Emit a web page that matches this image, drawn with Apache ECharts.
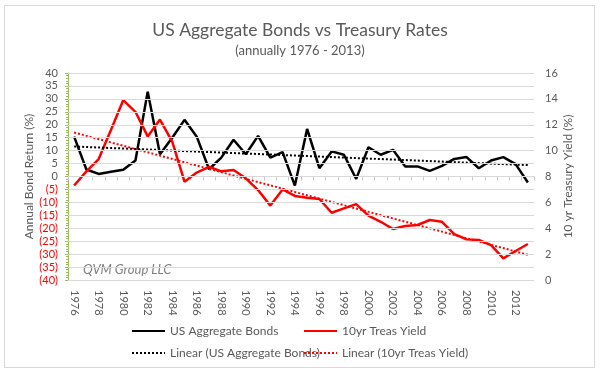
<!DOCTYPE html>
<html><head><meta charset="utf-8">
<script src="https://cdn.jsdelivr.net/npm/echarts@6/dist/echarts.min.js"></script>
<style>html,body{margin:0;padding:0;background:#fff}#wrap{position:relative;width:600px;height:374px}#c{width:600px;height:374px}#frame{position:absolute;left:4px;top:5px;width:589px;height:361px;border:1px solid #d9d9d9;pointer-events:none}</style>
</head><body><div id="wrap"><div id="c"></div><div id="frame"></div></div>
<script>
const years = [1976,1977,1978,1979,1980,1981,1982,1983,1984,1985,1986,1987,1988,1989,1990,1991,1992,1993,1994,1995,1996,1997,1998,1999,2000,2001,2002,2003,2004,2005,2006,2007,2008,2009,2010,2011,2012,2013];
const bondReturns = [15.4,2.7,1.0,1.8,2.6,6.2,32.8,8.6,15.0,21.9,15.4,2.8,7.3,14.2,8.6,15.7,7.3,9.4,-3.5,18.4,3.2,9.7,8.4,-0.9,11.3,8.4,10.3,3.9,3.9,2.2,4.1,6.8,7.5,3.2,6.2,7.5,4.8,-2.3];
const treasYield = [7.3,8.4,9.35,11.6,13.9,13.0,11.1,12.4,10.7,7.6,8.3,8.75,8.4,8.5,7.86,6.95,5.75,7.0,6.5,6.36,6.26,5.2,5.54,5.87,4.97,4.5,3.94,4.17,4.25,4.64,4.5,3.55,3.14,3.09,2.7,1.67,2.24,2.78];
// trendline endpoints (first year, last year)
const bondTrendEnds = [11.6, 4.4];
const yieldTrendEnds = [11.4, 1.95];
const leftTicks = {min:-40, max:40, interval:5};
const rightTicks = {min:0, max:16, interval:2};

function endsToSeries(ends){
  return years.map((y,i)=> i===0 ? ends[0] : (i===years.length-1 ? ends[1] : null));
}
const gridValues = [];
for (let v = leftTicks.min; v <= leftTicks.max; v += leftTicks.interval) gridValues.push(v);

const gray = '#595959';
const gridColor = '#d9d9d9';
const font = 'Lato, "Open Sans", sans-serif';
const chart = echarts.init(document.getElementById('c'));
const legendBase = {orient:'horizontal', padding:0, itemWidth:33, itemHeight:10, textStyle:{color:gray,fontSize:12,fontFamily:font}, itemGap:4, selectedMode:false, itemStyle:{opacity:0}};
chart.setOption({
  animation:false,
  textStyle:{fontFamily:font},
  title:[
    {text:'US Aggregate Bonds vs Treasury Rates', left:'center', top:16, textStyle:{fontSize:17.5,fontWeight:'normal',color:gray,fontFamily:font}},
    {text:'(annually 1976 - 2013)', left:'center', top:39, textStyle:{fontSize:13,fontWeight:'normal',color:gray,fontFamily:font}}
  ],
  graphic:[
    {type:'text', left:83, top:263, style:{text:'QVM Group LLC', font:'italic 13px '+font, fill:'#7f7f7f'}}
  ],
  legend:[
    Object.assign({}, legendBase, {left:131, top:325, data:['US Aggregate Bonds']}),
    Object.assign({}, legendBase, {left:303, top:325, data:['10yr Treas Yield']}),
    Object.assign({}, legendBase, {left:131, top:347, data:['Linear (US Aggregate Bonds)']}),
    Object.assign({}, legendBase, {left:303, top:347, data:['Linear (10yr Treas Yield)']})
  ],
  grid:{left:68, right:66, top:73, bottom:94, containLabel:false, outerBoundsMode:'none'},
  xAxis:[
    {type:'category', data:years, boundaryGap:true,
     axisLine:{show:true, onZero:true, lineStyle:{color:'#c8c8c8', width:1}},
     axisTick:{show:true, interval:0, length:4, lineStyle:{color:'#c8c8c8'}},
     axisLabel:{show:false},
     splitLine:{show:false}},
    {type:'category', data:years, boundaryGap:true, position:'bottom',
     axisLine:{show:false, onZero:false}, axisTick:{show:false},
     axisLabel:{show:true, interval:1, rotate:-90, margin:10, color:gray, fontSize:11, fontFamily:font},
     splitLine:{show:false}}
  ],
  yAxis:[
    {type:'value', position:'left', min:leftTicks.min, max:leftTicks.max, interval:leftTicks.interval,
     name:'Annual Bond Return (%)', nameLocation:'middle', nameGap:33, nameRotate:90, nameMoveOverlap:false,
     nameTextStyle:{color:gray,fontSize:12,fontFamily:font},
     axisLine:{show:true, lineStyle:{color:'#9bbb59'}},
     axisTick:{show:true, length:3, lineStyle:{color:'#9bbb59'}},
     minorTick:{show:true, splitNumber:5, length:2, lineStyle:{color:'#9bbb59'}},
     axisLabel:{margin:10, fontSize:11, fontFamily:font, color:gray,
       formatter:v=> v<0 ? '{n|('+(-v)+')}' : String(v),
       rich:{n:{color:'#ff0000', fontSize:11, fontFamily:font}}},
     splitLine:{show:true, lineStyle:{color:gridColor, width:1}}
    },
    {type:'value', position:'right', min:rightTicks.min, max:rightTicks.max, interval:rightTicks.interval,
     name:'10 yr Treasury Yield (%)', nameLocation:'middle', nameGap:28, nameRotate:90, nameMoveOverlap:false,
     nameTextStyle:{color:gray,fontSize:12,fontFamily:font},
     axisLine:{show:false}, axisTick:{show:false},
     axisLabel:{margin:11, color:gray, fontSize:11, fontFamily:font},
     splitLine:{show:false}
    }
  ],
  series:[
    {name:'gridlines', type:'line', yAxisIndex:0, z:1, data:years.map(()=>null), symbol:'none', silent:true,
     markLine:{silent:true, symbol:['none','none'], label:{show:false}, animation:false,
       lineStyle:{type:'solid', color:gridColor, width:1},
       data:gridValues.map(v=>({yAxis:v}))}},
    {name:'US Aggregate Bonds', type:'line', yAxisIndex:0, z:3, data:bondReturns, symbol:'none', lineStyle:{color:'#000',width:2.5}, itemStyle:{color:'#000'}},
    {name:'10yr Treas Yield', type:'line', yAxisIndex:1, z:3, data:treasYield, symbol:'none', lineStyle:{color:'#ff0000',width:2.5}, itemStyle:{color:'#ff0000'}},
    {name:'Linear (US Aggregate Bonds)', type:'line', yAxisIndex:0, z:3, data:endsToSeries(bondTrendEnds), connectNulls:true, symbol:'none', lineStyle:{color:'#000',width:2,type:[2,2]}, itemStyle:{color:'#000'}},
    {name:'Linear (10yr Treas Yield)', type:'line', yAxisIndex:1, z:3, data:endsToSeries(yieldTrendEnds), connectNulls:true, symbol:'none', lineStyle:{color:'#ff0000',width:2,type:[2,2]}, itemStyle:{color:'#ff0000'}}
  ]
});
</script></body></html>
